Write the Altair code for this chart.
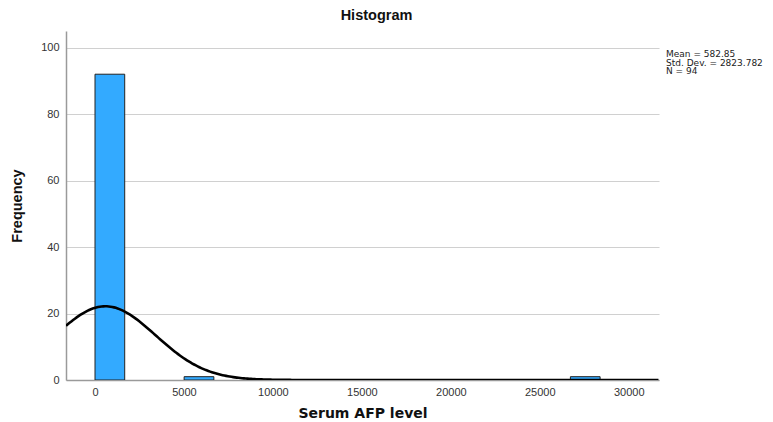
import altair as alt
import pandas as pd

# Histogram bins
bin_start = [0, 5010, 26720]
bin_width = 1670
counts = [92, 1, 1]

# Descriptive statistics shown in the legend
mean_val = 582.85
sd_val = 2823.782
n_val = 94
stats_labels = ["Mean = 582.85", "Std. Dev. = 2823.782", "N = 94"]

x_ticks = [0, 5000, 10000, 15000, 20000, 25000, 30000]
y_ticks = [0, 20, 40, 60, 80, 100]
x_domain = [-1630, 31700]
y_domain = [0, 105]

bars_df = pd.DataFrame({
    "start": bin_start,
    "end": [s + bin_width for s in bin_start],
    "count": counts,
})

font = "Liberation Sans"

x_scale = alt.Scale(domain=x_domain, nice=False, zero=False)
y_scale = alt.Scale(domain=y_domain, nice=False)

bars = alt.Chart(bars_df).mark_bar(
    fill="#33aaff", stroke="#222222", strokeWidth=1, clip=True
).encode(
    x=alt.X("start:Q", scale=x_scale,
            axis=alt.Axis(title="Serum AFP level", values=x_ticks, grid=False,
                          format="d", ticks=False, domainColor="#9a9a9a",
                          domainWidth=1.5, labelPadding=6, titlePadding=9,
                          titleFont="DejaVu Sans", titleFontSize=14)),
    x2="end:Q",
    y=alt.Y("count:Q", scale=y_scale,
            axis=alt.Axis(title="Frequency", values=y_ticks, grid=True,
                          gridColor="#d0d0d0", gridWidth=1.2, ticks=False,
                          domainColor="#9a9a9a", domainWidth=1.5,
                          labelPadding=7, titlePadding=16, titleFontSize=14.5)),
    y2=alt.datum(0),
)

peak = n_val * bin_width / (sd_val * (2 * 3.141592653589793) ** 0.5)

curve = alt.Chart(alt.sequence(x_domain[0], x_domain[1], 100, as_="x")).transform_calculate(
    y=f"{peak} * exp(-0.5 * pow((datum.x - {mean_val}) / {sd_val}, 2))"
).mark_line(color="black", strokeWidth=2.6, clip=True).encode(
    x=alt.X("x:Q", scale=x_scale),
    y=alt.Y("y:Q", scale=y_scale),
)

stats = alt.Chart(pd.DataFrame({"k": [0]})).mark_text(
    align="left", baseline="top", font="DejaVu Sans", fontSize=9, lineHeight=8.6,
    color="#222222"
).encode(
    x=alt.value(600),
    y=alt.value(19),
    text=alt.value(stats_labels),
)

chart = alt.layer(bars, curve, stats).properties(
    width=593,
    height=349,
    title=alt.TitleParams("Histogram", font=font, fontSize=14.5, fontWeight="bold",
                          color="#111111", dx=14, offset=8),
    autosize=alt.AutoSizeParams(type="none"),
    padding={"left": 66, "top": 31, "right": 114, "bottom": 42},
).configure_view(stroke=None).configure_axis(
    labelFont=font, labelFontSize=11, labelColor="#333333",
    titleFont=font, titleFontWeight="bold", titleColor="#111111",
)

chart.save("out.html", embed_options={"renderer": "svg", "actions": False})
